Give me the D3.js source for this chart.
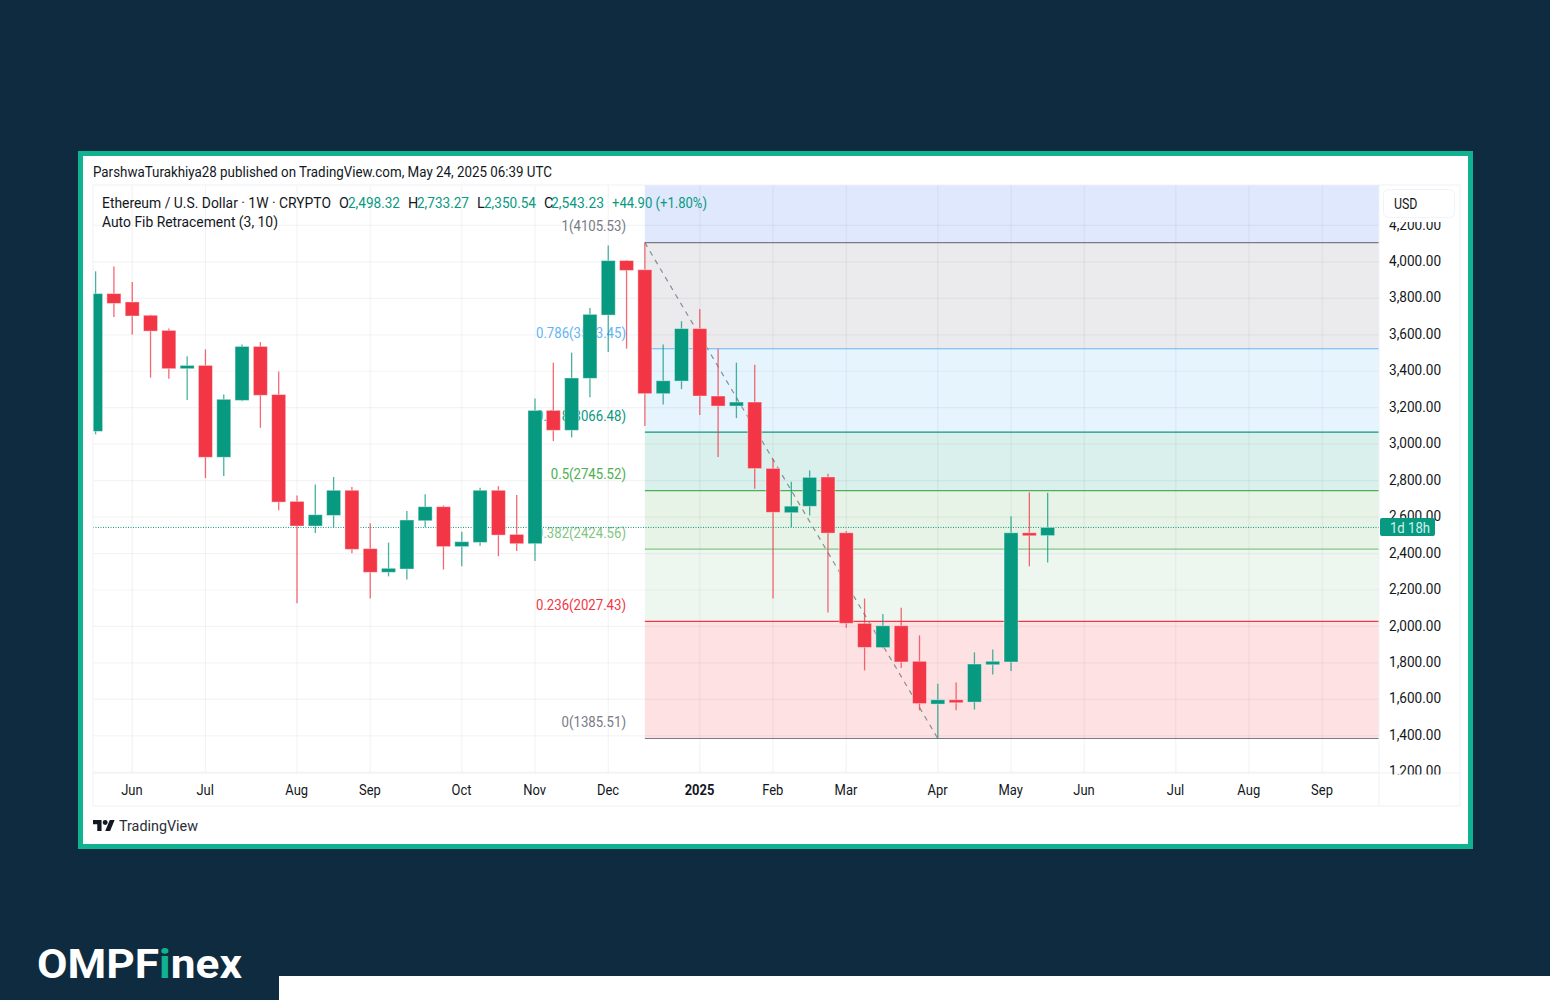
<!DOCTYPE html>
<html><head><meta charset="utf-8">
<script src="https://cdn.jsdelivr.net/npm/d3@7/dist/d3.min.js"></script>
<style>html,body{margin:0;padding:0;background:#0e2b40;overflow:hidden}svg{display:block}text{font-family:Roboto,sans-serif}</style>
</head><body><svg id="c" width="1550" height="1000"></svg>
<script>
const opens=[3070,3826,3780,3707,3624,3414,3432,2928,3240,3536,3272,2686,2551,2609,2747,2427,2297,2315,2580,2657,2438,2461,2747,2505,2454,3185,3076,3361,3708,4007,3957,3277,3346,3634,3264,3209,3231,2867,2624,2659,2820,2514,2017,1884,2004,1809,1574,1598,1585,1790,1805,2514,2498.32];
const highs=[3948,3975,3889,3710,3634,3482,3520,3273,3546,3560,3399,2719,2779,2820,2765,2566,2460,2633,2725,2664,2520,2761,2770,2721,3250,3447,3502,3747,4090,4010,4105.53,3547,3674,3741,3524,3447,3436,2918,2794,2856,2838,2523,2153,2068,2103,1951,1686,1693,1858,1873,2604,2736,2733.27];
const lows=[3054,3697,3602,3365,3359,3242,2814,2825,3236,3090,2637,2128,2512,2544,2401,2154,2275,2258,2544,2312,2330,2443,2385,2414,2359,3017,3037,3258,3505,3524,3099,3218,3302,3160,2929,3143,2756,2154,2544,2609,2076,1993,1759,1880,1772,1540,1385.51,1540,1544,1736,1755,2330,2350.54];
const closes=[3826,3772,3703,3620,3414,3432,2928,3246,3536,3268,2682,2551,2613,2747,2423,2297,2319,2584,2657,2438,2465,2747,2501,2454,3185,3076,3363,3712,4007,3953,3277,3348,3634,3264,3209,3231,2866,2626,2660,2818,2512,2017,1885,2004,1805,1577,1598,1585,1794,1809,2514,2498,2543.23];
const monthTicks=[2,6,11,15,20,24,28,33,37,41,46,50,54,59,63,67];
const monthLabels=["Jun","Jul","Aug","Sep","Oct","Nov","Dec","2025","Feb","Mar","Apr","May","Jun","Jul","Aug","Sep"];
const priceTicks=[1200,1400,1600,1800,2000,2200,2400,2600,2800,3000,3200,3400,3600,3800,4000,4200];
const fibLevels=["1","0.786","0.618","0.5","0.382","0.236","0"];
const fibValues=[4105.53,3523.45,3066.48,2745.52,2424.56,2027.43,1385.51];
const fibLineColors=["#787b86","#64b5f6","#089981","#4caf50","#81c784","#f23645","#787b86"];
const fibBandColors=["#ebebed","#e6f4fe","#d9f0ec","#e6f3e6","#eef7ef","#fee2e3"];
const fibTopBand="#e0e8fe";
const lastPrice=2543.23;
const swingIdx=[30,46];

const UP="#089981",DOWN="#f23645",TXT="#131722";
const FS=14.4;
const L=93,R=1379,PT=185,PB=773,PANELR=1460,PANELB=806;
const x=d3.scaleLinear().domain([0,67]).range([95.6,1322.3]);
const y=d3.scaleLinear().domain([1200,4200]).range([772.3,225.4]);
const svg=d3.select("#c");
const squeeze=(sel,k)=>sel.each(function(){this.setAttribute("textLength",(this.getComputedTextLength()*k).toFixed(1));this.setAttribute("lengthAdjust","spacingAndGlyphs");});
svg.append("rect").attr("width",1550).attr("height",1000).attr("fill","#0e2b40");
svg.append("rect").attr("x",80.5).attr("y",153.5).attr("width",1390).attr("height",693).attr("fill","#fff").attr("stroke","#10b28f").attr("stroke-width",5);
svg.append("rect").attr("x",279).attr("y",976).attr("width",1271).attr("height",24).attr("fill","#fff");
const defs=svg.append("defs");
defs.append("clipPath").attr("id","plot").append("rect").attr("x",L).attr("y",PT).attr("width",R-L).attr("height",PB-PT);
defs.append("clipPath").attr("id","pa").append("rect").attr("x",R).attr("y",222).attr("width",PANELR-R).attr("height",552.5);

svg.append("text").attr("x",93).attr("y",177).attr("font-size",FS).attr("fill",TXT).attr("textLength",459).attr("lengthAdjust","spacingAndGlyphs")
 .text("ParshwaTurakhiya28 published on TradingView.com, May 24, 2025 06:39 UTC");

const plot=svg.append("g").attr("clip-path","url(#plot)");
const fibX0=x(swingIdx[0]);
plot.append("rect").attr("x",fibX0).attr("y",PT).attr("width",R-fibX0).attr("height",y(fibValues[0])-PT).attr("fill",fibTopBand);
plot.selectAll(".band").data(fibBandColors).join("rect").attr("x",fibX0).attr("width",R-fibX0)
 .attr("y",(d,i)=>y(fibValues[i])).attr("height",(d,i)=>y(fibValues[i+1])-y(fibValues[i])).attr("fill",d=>d);
const gridC="rgba(42,46,57,0.05)";
plot.selectAll(".gh").data(priceTicks).join("line").attr("x1",L).attr("x2",R).attr("y1",d=>y(d)).attr("y2",d=>y(d)).attr("stroke",gridC).attr("stroke-width",1.2);
plot.selectAll(".gv").data(monthTicks).join("line").attr("x1",d=>x(d)).attr("x2",d=>x(d)).attr("y1",PT).attr("y2",PB).attr("stroke",gridC).attr("stroke-width",1.2);
plot.selectAll(".fl").data(fibValues).join("line").attr("x1",fibX0).attr("x2",R).attr("y1",d=>y(d)).attr("y2",d=>y(d)).attr("stroke",(d,i)=>fibLineColors[i]).attr("stroke-width",1.2);
plot.selectAll(".ft").data(fibValues).join("text").attr("x",626).attr("y",d=>y(d)-11.2).attr("text-anchor","end").attr("font-size",FS)
 .attr("fill",(d,i)=>fibLineColors[i]).text((d,i)=>`${fibLevels[i]}(${d.toFixed(2)})`).call(squeeze,.915);
plot.append("line").attr("x1",x(swingIdx[0])).attr("x2",x(swingIdx[1])).attr("y1",y(fibValues[0])).attr("y2",y(fibValues[6]))
 .attr("stroke","#787b86").attr("stroke-width",1.2).attr("stroke-opacity",.85).attr("stroke-dasharray","5 5");
plot.append("line").attr("x1",L).attr("x2",R).attr("y1",y(lastPrice)).attr("y2",y(lastPrice)).attr("stroke",UP).attr("stroke-width",1).attr("stroke-dasharray","1 1.5");

const idx=d3.range(opens.length);
const col=i=>closes[i]>=opens[i]?UP:DOWN;
plot.selectAll(".w").data(idx).join("line").attr("x1",i=>x(i)).attr("x2",i=>x(i)).attr("y1",i=>y(highs[i])).attr("y2",i=>y(lows[i])).attr("stroke",col).attr("stroke-width",1.3).attr("stroke-opacity",.75);
const bw=14;
plot.selectAll(".b").data(idx).join("rect").attr("x",i=>x(i)-bw/2).attr("width",bw)
 .attr("y",i=>y(Math.max(opens[i],closes[i]))).attr("height",i=>Math.max(3,Math.abs(y(opens[i])-y(closes[i])))).attr("fill",col).attr("stroke","#fff").attr("stroke-opacity",.4).attr("stroke-width",1);

// panel frames
const frame="#eff1f4";
svg.append("rect").attr("x",L).attr("y",PT).attr("width",PANELR-L).attr("height",PANELB-PT).attr("fill","none").attr("stroke",frame);
svg.append("line").attr("x1",R).attr("x2",R).attr("y1",PT).attr("y2",PANELB).attr("stroke",frame);
svg.append("line").attr("x1",L).attr("x2",PANELR).attr("y1",PB).attr("y2",PB).attr("stroke",frame);

// axes
const ay=svg.append("g").attr("clip-path","url(#pa)").append("g").attr("transform",`translate(${R},-1)`)
 .call(d3.axisRight(y).tickValues(priceTicks).tickSize(0).tickPadding(10).tickFormat(d3.format(",.2f")));
ay.select(".domain").remove();
ay.selectAll("text").attr("font-family","Roboto,sans-serif").attr("font-size",FS).attr("fill",TXT).call(squeeze,.944);
const ax=svg.append("g").attr("transform",`translate(-0.8,${PB+3})`)
 .call(d3.axisBottom(x).tickValues(monthTicks).tickSize(0).tickPadding(9).tickFormat((d,i)=>monthLabels[i]));
ax.select(".domain").remove();
ax.selectAll("text").attr("font-family","Roboto,sans-serif").attr("font-size",FS).attr("fill",TXT).attr("font-weight",d=>d===33?700:400).call(squeeze,.9);

// USD button
svg.append("rect").attr("x",1383.5).attr("y",189.5).attr("width",71).attr("height",28).attr("rx",5).attr("fill","#fff").attr("stroke","#f0f3fa");
svg.append("text").attr("x",1394).attr("y",208.5).attr("font-size",FS).attr("fill",TXT).attr("textLength",23.5).attr("lengthAdjust","spacingAndGlyphs").text("USD");
// countdown tag
svg.append("rect").attr("x",1380).attr("y",518).attr("width",55).attr("height",18).attr("rx",2).attr("fill",UP);
svg.append("text").attr("x",1390).attr("y",532.7).attr("font-size",FS).attr("fill","#d4efe9").attr("textLength",40).attr("lengthAdjust","spacingAndGlyphs").text("1d 18h");

// legend
const leg=(xp,yp,t,c,w)=>{const s=svg.append("text").attr("x",xp).attr("y",yp).attr("font-size",FS).attr("fill",c).text(t);
 if(w)s.attr("textLength",w).attr("lengthAdjust","spacingAndGlyphs");return s;};
leg(102,208,"Ethereum / U.S. Dollar · 1W · CRYPTO",TXT,229);
const n=opens.length-1;
const f=d3.format(",.2f");
leg(339,208,"O",TXT);leg(348,208,f(opens[n]),UP,52);
leg(408,208,"H",TXT);leg(417,208,f(highs[n]),UP,52);
leg(477,208,"L",TXT);leg(484,208,f(lows[n]),UP,52);
leg(544,208,"C",TXT);leg(551,208,f(closes[n]),UP,53);
leg(612,208,"+44.90 (+1.80%)",UP,95);
leg(102,226.5,"Auto Fib Retracement (3, 10)",TXT,176);

// TradingView logo
const lg=svg.append("g").attr("transform","translate(93,817.6) scale(.61)").attr("fill","#131722");
lg.append("path").attr("d","M14 22H7V11H0V4h14v18zM28 22h-8l7.5-18h8L28 22z");
lg.append("circle").attr("cx",20).attr("cy",8).attr("r",4);
svg.append("text").attr("x",119).attr("y",831).attr("font-size",14.5).attr("fill","#2a2e39").attr("textLength",79).attr("lengthAdjust","spacingAndGlyphs").text("TradingView");

// brand
const br=svg.append("text").attr("x",37).attr("y",978).attr("font-family","Inter").attr("font-size",41).attr("font-weight",700).attr("fill","#fff").attr("textLength",205).attr("lengthAdjust","spacingAndGlyphs");
br.append("tspan").text("OMPF");
br.append("tspan").attr("fill","#10b28f").text("i");
br.append("tspan").text("nex");
</script></body></html>
